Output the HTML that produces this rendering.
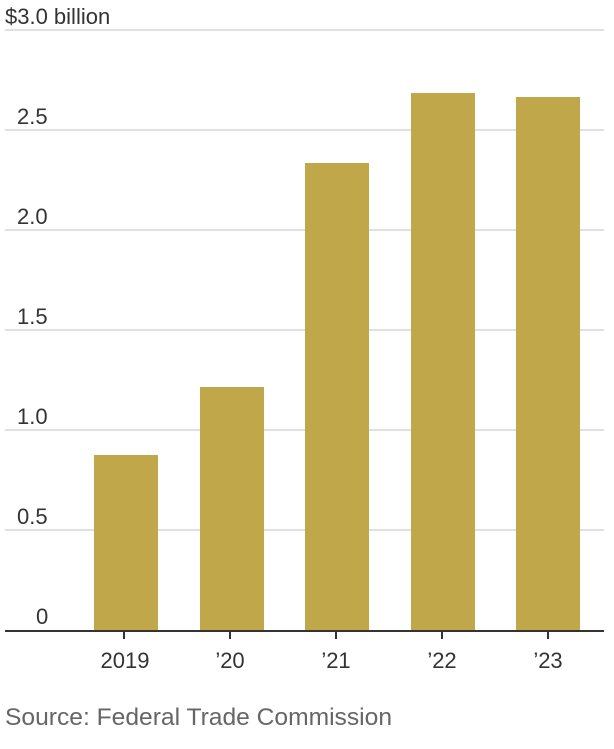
<!DOCTYPE html>
<html><head><style>
body{margin:0;background:#fff;}
svg text{font-family:"Liberation Sans Narrow","Liberation Sans",sans-serif;}
</style></head><body>
<svg width="614" height="744" viewBox="0 0 614 744" xmlns="http://www.w3.org/2000/svg">
<g stroke="#e0e0e0" stroke-width="2">
<line x1="5" x2="604" y1="30" y2="30"/>
<line x1="5" x2="604" y1="130" y2="130"/>
<line x1="5" x2="604" y1="230" y2="230"/>
<line x1="5" x2="604" y1="330" y2="330"/>
<line x1="5" x2="604" y1="430" y2="430"/>
<line x1="5" x2="604" y1="530" y2="530"/>
</g>
<g fill="#333" font-size="22">
<text x="5" y="24">$3.0 billion</text>
<text x="17" y="124">2.5</text>
<text x="17" y="224">2.0</text>
<text x="17" y="324">1.5</text>
<text x="17" y="424">1.0</text>
<text x="17" y="524">0.5</text>
<text x="36" y="624">0</text>
</g>
<g fill="#c0a84a">
<rect x="94" y="455" width="64" height="176"/>
<rect x="200" y="387" width="64" height="244"/>
<rect x="305" y="163" width="64" height="468"/>
<rect x="411" y="93" width="64" height="538"/>
<rect x="516" y="97" width="64" height="534"/>
</g>
<line x1="5" x2="604" y1="631" y2="631" stroke="#333" stroke-width="2"/>
<g stroke="#333" stroke-width="2">
<line x1="124" x2="124" y1="631" y2="639"/>
<line x1="230" x2="230" y1="631" y2="639"/>
<line x1="336" x2="336" y1="631" y2="639"/>
<line x1="442" x2="442" y1="631" y2="639"/>
<line x1="548" x2="548" y1="631" y2="639"/>
</g>
<g fill="#333" font-size="22" text-anchor="middle">
<text x="125" y="668">2019</text>
<text x="230" y="668">’20</text>
<text x="336" y="668">’21</text>
<text x="442" y="668">’22</text>
<text x="548" y="668">’23</text>
</g>
<text x="5" y="725" fill="#666" font-size="24" textLength="387" lengthAdjust="spacingAndGlyphs">Source: Federal Trade Commission</text>
</svg>
</body></html>
